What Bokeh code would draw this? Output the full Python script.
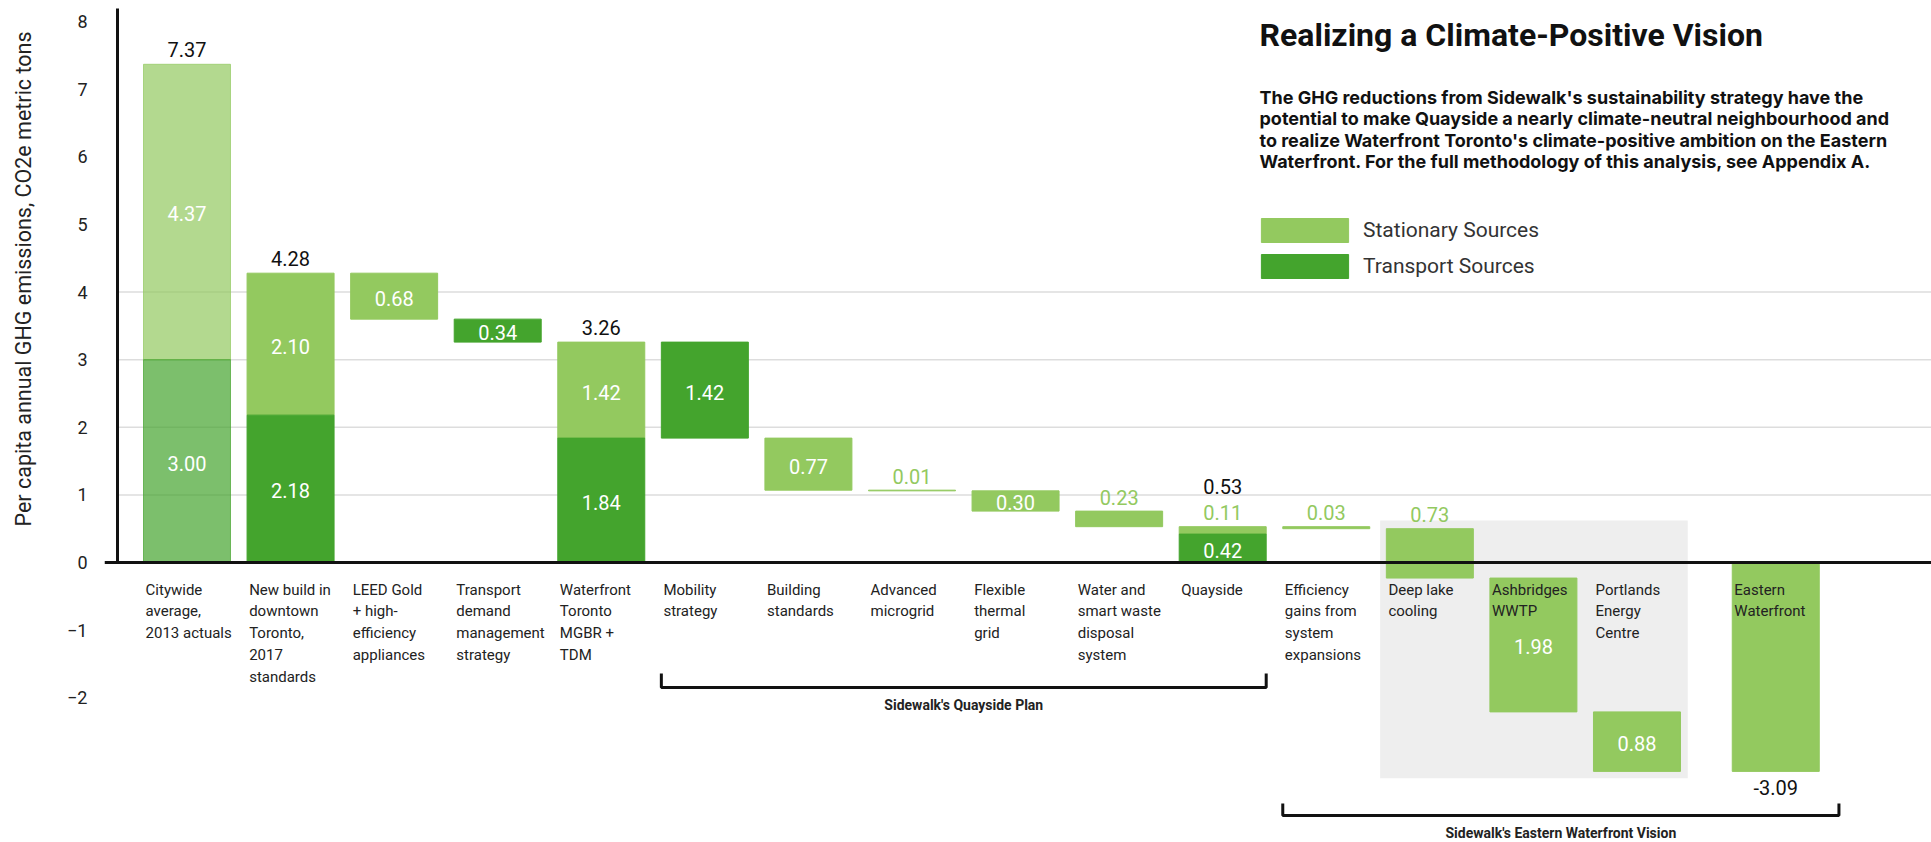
import numpy as np
from bokeh.plotting import figure
from bokeh.models import (Range1d, FixedTicker, Span, Legend, LegendItem,
                          ColumnDataSource, Title, LinearAxis)
from bokeh.core.properties import value
from bokeh.embed import file_html
from bokeh.resources import INLINE

# ---------------- data ----------------
categories = [
    "Citywide\naverage,\n2013 actuals",
    "New build in\ndowntown\nToronto,\n2017\nstandards",
    "LEED Gold\n+ high-\nefficiency\nappliances",
    "Transport\ndemand\nmanagement\nstrategy",
    "Waterfront\nToronto\nMGBR +\nTDM",
    "Mobility\nstrategy",
    "Building\nstandards",
    "Advanced\nmicrogrid",
    "Flexible\nthermal\ngrid",
    "Water and\nsmart waste\ndisposal\nsystem",
    "Quayside",
    "Efficiency\ngains from\nsystem\nexpansions",
    "Deep lake\ncooling",
    "Ashbridges\nWWTP",
    "Portlands\nEnergy\nCentre",
    "Eastern\nWaterfront",
]
# "total" = stacked bar from zero, "step" = reduction, "final" = resulting total
kinds = ["total", "total", "step", "step", "total", "step", "step", "step",
         "step", "step", "total", "step", "step", "step", "step", "final"]
stationary = [4.37, 2.10, 0.68, 0.00, 1.42, 0.00, 0.77, 0.01,
              0.30, 0.23, 0.11, 0.03, 0.73, 1.98, 0.88, 3.09]
transport = [3.00, 2.18, 0.00, 0.34, 1.84, 1.42, 0.00, 0.00,
             0.00, 0.00, 0.42, 0.00, 0.00, 0.00, 0.00, 0.00]
y_ticks = [-2, -1, 0, 1, 2, 3, 4, 5, 6, 7, 8]
grid_values = [1, 2, 3, 4]
legend_labels = ["Stationary Sources", "Transport Sources"]
quayside_group = (5, 10)      # Mobility strategy .. Quayside
eastern_group = (11, 15)      # Efficiency gains .. Eastern Waterfront
highlight_group = (12, 14)    # Deep lake cooling .. Portlands Energy Centre
title_text = "Realizing a Climate-Positive Vision"
subtitle_text = ("The GHG reductions from Sidewalk's sustainability strategy have the\n"
                 "potential to make Quayside a nearly climate-neutral neighbourhood and\n"
                 "to realize Waterfront Toronto's climate-positive ambition on the Eastern\n"
                 "Waterfront. For the full methodology of this analysis, see Appendix A.")
y_title = "Per capita annual GHG emissions, CO2e metric tons"
quayside_label = "Sidewalk's Quayside Plan"
eastern_label = "Sidewalk's Eastern Waterfront Vision"

# ---------------- style / layout ----------------
# where each segment's value label goes ("in" = inside bar, "above" = above bar)
stat_label_pos = ["in", "in", "in", "", "in", "", "in", "above",
                  "in", "above", "above", "above", "above", "in", "in", ""]
trans_label_pos = ["in", "in", "", "in", "in", "in", "", "",
                   "", "", "in", "", "", "", "", ""]

C_STAT = "#93c95f"
C_TRANS = "#44a42d"
C_TEXT = "#222222"
FONT = "Roboto"
BAR_W = 0.84
LAST_GAP = 0.34

W, H = 1931, 842
LEFT = 104
X_PER_PX = 103.57          # pixels per category
Y_PER_PX = 67.6            # pixels per unit
X0_PAGE, Y0_PAGE = 186.5, 562.0   # page position of category 0 / value 0


def px2x(px):
    return (px - X0_PAGE) / X_PER_PX


def py2y(py):
    return (Y0_PAGE - py) / Y_PER_PX


x_start = px2x(LEFT)
x_end = x_start + (W - LEFT) / X_PER_PX
y_end = py2y(0)
y_start = y_end - H / Y_PER_PX

xs = [float(i) for i in range(len(categories))]
xs[-1] += LAST_GAP

# ---------------- build waterfall segments ----------------
seg = {"stat": dict(x=[], bottom=[], top=[], alpha=[]),
       "trans": dict(x=[], bottom=[], top=[], alpha=[])}
in_lab = dict(x=[], y=[], text=[])
up_lab = dict(x=[], y=[], text=[])
tot_lab = dict(x=[], y=[], text=[], off=[])
bar_tops, bar_bottoms = [], []

level = 0.0
for i, k in enumerate(kinds):
    x = xs[i]
    a = 0.7 if i == 0 else 1.0
    segs_here = []
    if k == "total":
        b = 0.0
        for key, v, pos in (("trans", transport[i], trans_label_pos[i]),
                            ("stat", stationary[i], stat_label_pos[i])):
            if v > 0:
                segs_here.append((key, b, b + v, v, pos))
                b += v
        level = b
        bar_bottoms.append(0.0)
        bar_tops.append(level)
    elif k == "step":
        if stationary[i] > 0:
            key, v, pos = "stat", stationary[i], stat_label_pos[i]
        else:
            key, v, pos = "trans", transport[i], trans_label_pos[i]
        segs_here.append((key, level - v, level, v, pos))
        bar_tops.append(level)
        level = level - v
        bar_bottoms.append(level)
    else:  # final
        segs_here.append(("stat", level, 0.0, stationary[i], ""))
        bar_tops.append(0.0)
        bar_bottoms.append(level)

    top_label_above = False
    for key, b0, b1, v, pos in segs_here:
        d = seg[key]
        d["x"].append(x); d["bottom"].append(b0); d["top"].append(b1); d["alpha"].append(a)
        if pos == "in":
            in_lab["x"].append(x); in_lab["y"].append((b0 + b1) / 2); in_lab["text"].append(f"{v:.2f}")
        elif pos == "above":
            up_lab["x"].append(x); up_lab["y"].append(b1); up_lab["text"].append(f"{v:.2f}")
            top_label_above = True
    if k == "total":
        tot_lab["x"].append(x); tot_lab["y"].append(level)
        tot_lab["text"].append(f"{level:.2f}")
        tot_lab["off"].append(-40 if top_label_above else -15)
    if k == "final":
        tot_lab["x"].append(x); tot_lab["y"].append(level)
        tot_lab["text"].append(f"{level:.2f}")
        tot_lab["off"].append(16)

# ---------------- figure ----------------
p = figure(width=W, height=H, x_range=Range1d(x_start, x_end),
           y_range=Range1d(y_start, y_end), output_backend="svg",
           toolbar_location=None, x_axis_location=None, y_axis_location="left",
           min_border_left=LEFT, min_border_right=0, min_border_top=0,
           min_border_bottom=0)
p.outline_line_color = None
p.xgrid.visible = False
p.ygrid.visible = False
p.background_fill_color = "white"

yax = p.yaxis[0]
yax.ticker = FixedTicker(ticks=y_ticks)
yax.axis_line_color = None
yax.major_tick_line_color = None
yax.minor_tick_line_color = None
yax.major_label_standoff = 11
yax.major_label_text_font = FONT
yax.major_label_text_font_size = "18px"
yax.major_label_text_color = C_TEXT

# spacer axis (invisible tick, empty label) between tick labels and the axis title
spacer = LinearAxis(ticker=FixedTicker(ticks=[0]), major_label_overrides={0: ""},
                    axis_line_color=None, major_tick_line_color=None,
                    minor_tick_line_color=None, major_tick_out=20, minor_tick_out=0,
                    major_tick_in=0, minor_tick_in=0, major_label_standoff=0)
p.add_layout(spacer, "left")

# y axis title (left side panel)
p.add_layout(Title(text=y_title, align="right", offset=31, vertical_align="middle",
                   standoff=16, text_font=FONT, text_font_size="21.5px",
                   text_font_style="normal", text_color=C_TEXT), "left")

axis_x = px2x(117)

# gridlines from the y axis line to the right
p.segment(x0=[axis_x] * len(grid_values), x1=[x_end] * len(grid_values),
          y0=grid_values, y1=grid_values, line_color="#dddddd", line_width=1.5)

# highlight box
h0, h1 = highlight_group
p.quad(left=xs[h0] - BAR_W / 2 - 0.06, right=xs[h1] + BAR_W / 2 + 0.07,
       top=max(bar_tops[h0:h1 + 1]) + 0.12, bottom=min(bar_bottoms[h0:h1 + 1]) - 0.1,
       fill_color="#eeeeee", line_color=None)

src_s = ColumnDataSource(seg["stat"])
src_t = ColumnDataSource(seg["trans"])
r_s = p.vbar(x="x", bottom="bottom", top="top", width=BAR_W, source=src_s,
             fill_color=C_STAT, fill_alpha="alpha", line_color=C_STAT,
             line_alpha="alpha", line_width=1)
r_t = p.vbar(x="x", bottom="bottom", top="top", width=BAR_W, source=src_t,
             fill_color=C_TRANS, fill_alpha="alpha", line_color=C_TRANS,
             line_alpha="alpha", line_width=1)

# axis lines
p.segment(x0=[axis_x], x1=[axis_x], y0=[0], y1=[py2y(8)], line_color="#111111", line_width=3)
p.add_layout(Span(location=0, dimension="width", line_color="#111111", line_width=3))

# value labels
p.text(x="x", y="y", text="text", source=ColumnDataSource(in_lab),
       text_color="white", text_font=value(FONT), text_font_size="20px",
       text_align="center", text_baseline="middle", y_offset=2)
p.text(x="x", y="y", text="text", source=ColumnDataSource(up_lab),
       text_color=C_STAT, text_font=value(FONT), text_font_size="20px",
       text_align="center", text_baseline="middle", y_offset=-14)
p.text(x="x", y="y", text="text", y_offset="off", source=ColumnDataSource(tot_lab),
       text_color="#111111", text_font=value(FONT), text_font_size="20px",
       text_align="center", text_baseline="middle")

# category labels
p.text(x=[x - BAR_W / 2 + 0.02 for x in xs], y=[py2y(580)] * len(xs), text=categories,
       text_color=C_TEXT, text_font=value(FONT), text_font_size="15px",
       text_align="left", text_baseline="top", text_line_height=1.22)


# group brackets
def bracket(g0, g1, y_line, y_tick, y_text, label, extra_right=0.0):
    xl = xs[g0] - BAR_W / 2
    xr = xs[g1] + BAR_W / 2 + extra_right
    p.multi_line(xs=[[xl, xl, xr, xr]], ys=[[y_tick, y_line, y_line, y_tick]],
                 line_color="#111111", line_width=3)
    p.text(x=[(xl + xr) / 2], y=[y_text], text=[label], text_color=C_TEXT,
           text_font=value(FONT), text_font_size="14px", text_font_style="bold",
           text_align="center", text_baseline="middle")


bracket(quayside_group[0], quayside_group[1], py2y(687), py2y(673), py2y(704), quayside_label)
bracket(eastern_group[0], eastern_group[1], py2y(815), py2y(803), py2y(832), eastern_label, 0.19)

# title + subtitle
p.text(x=[px2x(1259)], y=[py2y(34)], text=[title_text], text_color="#111111",
       text_font=value(FONT), text_font_size="32px", text_font_style="bold",
       text_align="left", text_baseline="middle")
p.text(x=[px2x(1259)], y=[py2y(129)], text=[subtitle_text], text_color="#111111",
       text_font=value("Inter"), text_font_size="18px", text_font_style="bold",
       text_align="left", text_baseline="middle", text_line_height=1.02)

# legend
legend = Legend(items=[LegendItem(label=legend_labels[0], renderers=[r_s], index=1),
                       LegendItem(label=legend_labels[1], renderers=[r_t], index=1)],
                location=(1250 - LEFT, H - (215 + 66)),
                glyph_width=109, glyph_height=30, spacing=6, padding=0, margin=0,
                label_standoff=4, border_line_color=None, background_fill_alpha=0,
                label_text_font=FONT, label_text_font_size="21px",
                label_text_color="#333333")
p.add_layout(legend)

open("out.html", "w").write(file_html(p, INLINE))
